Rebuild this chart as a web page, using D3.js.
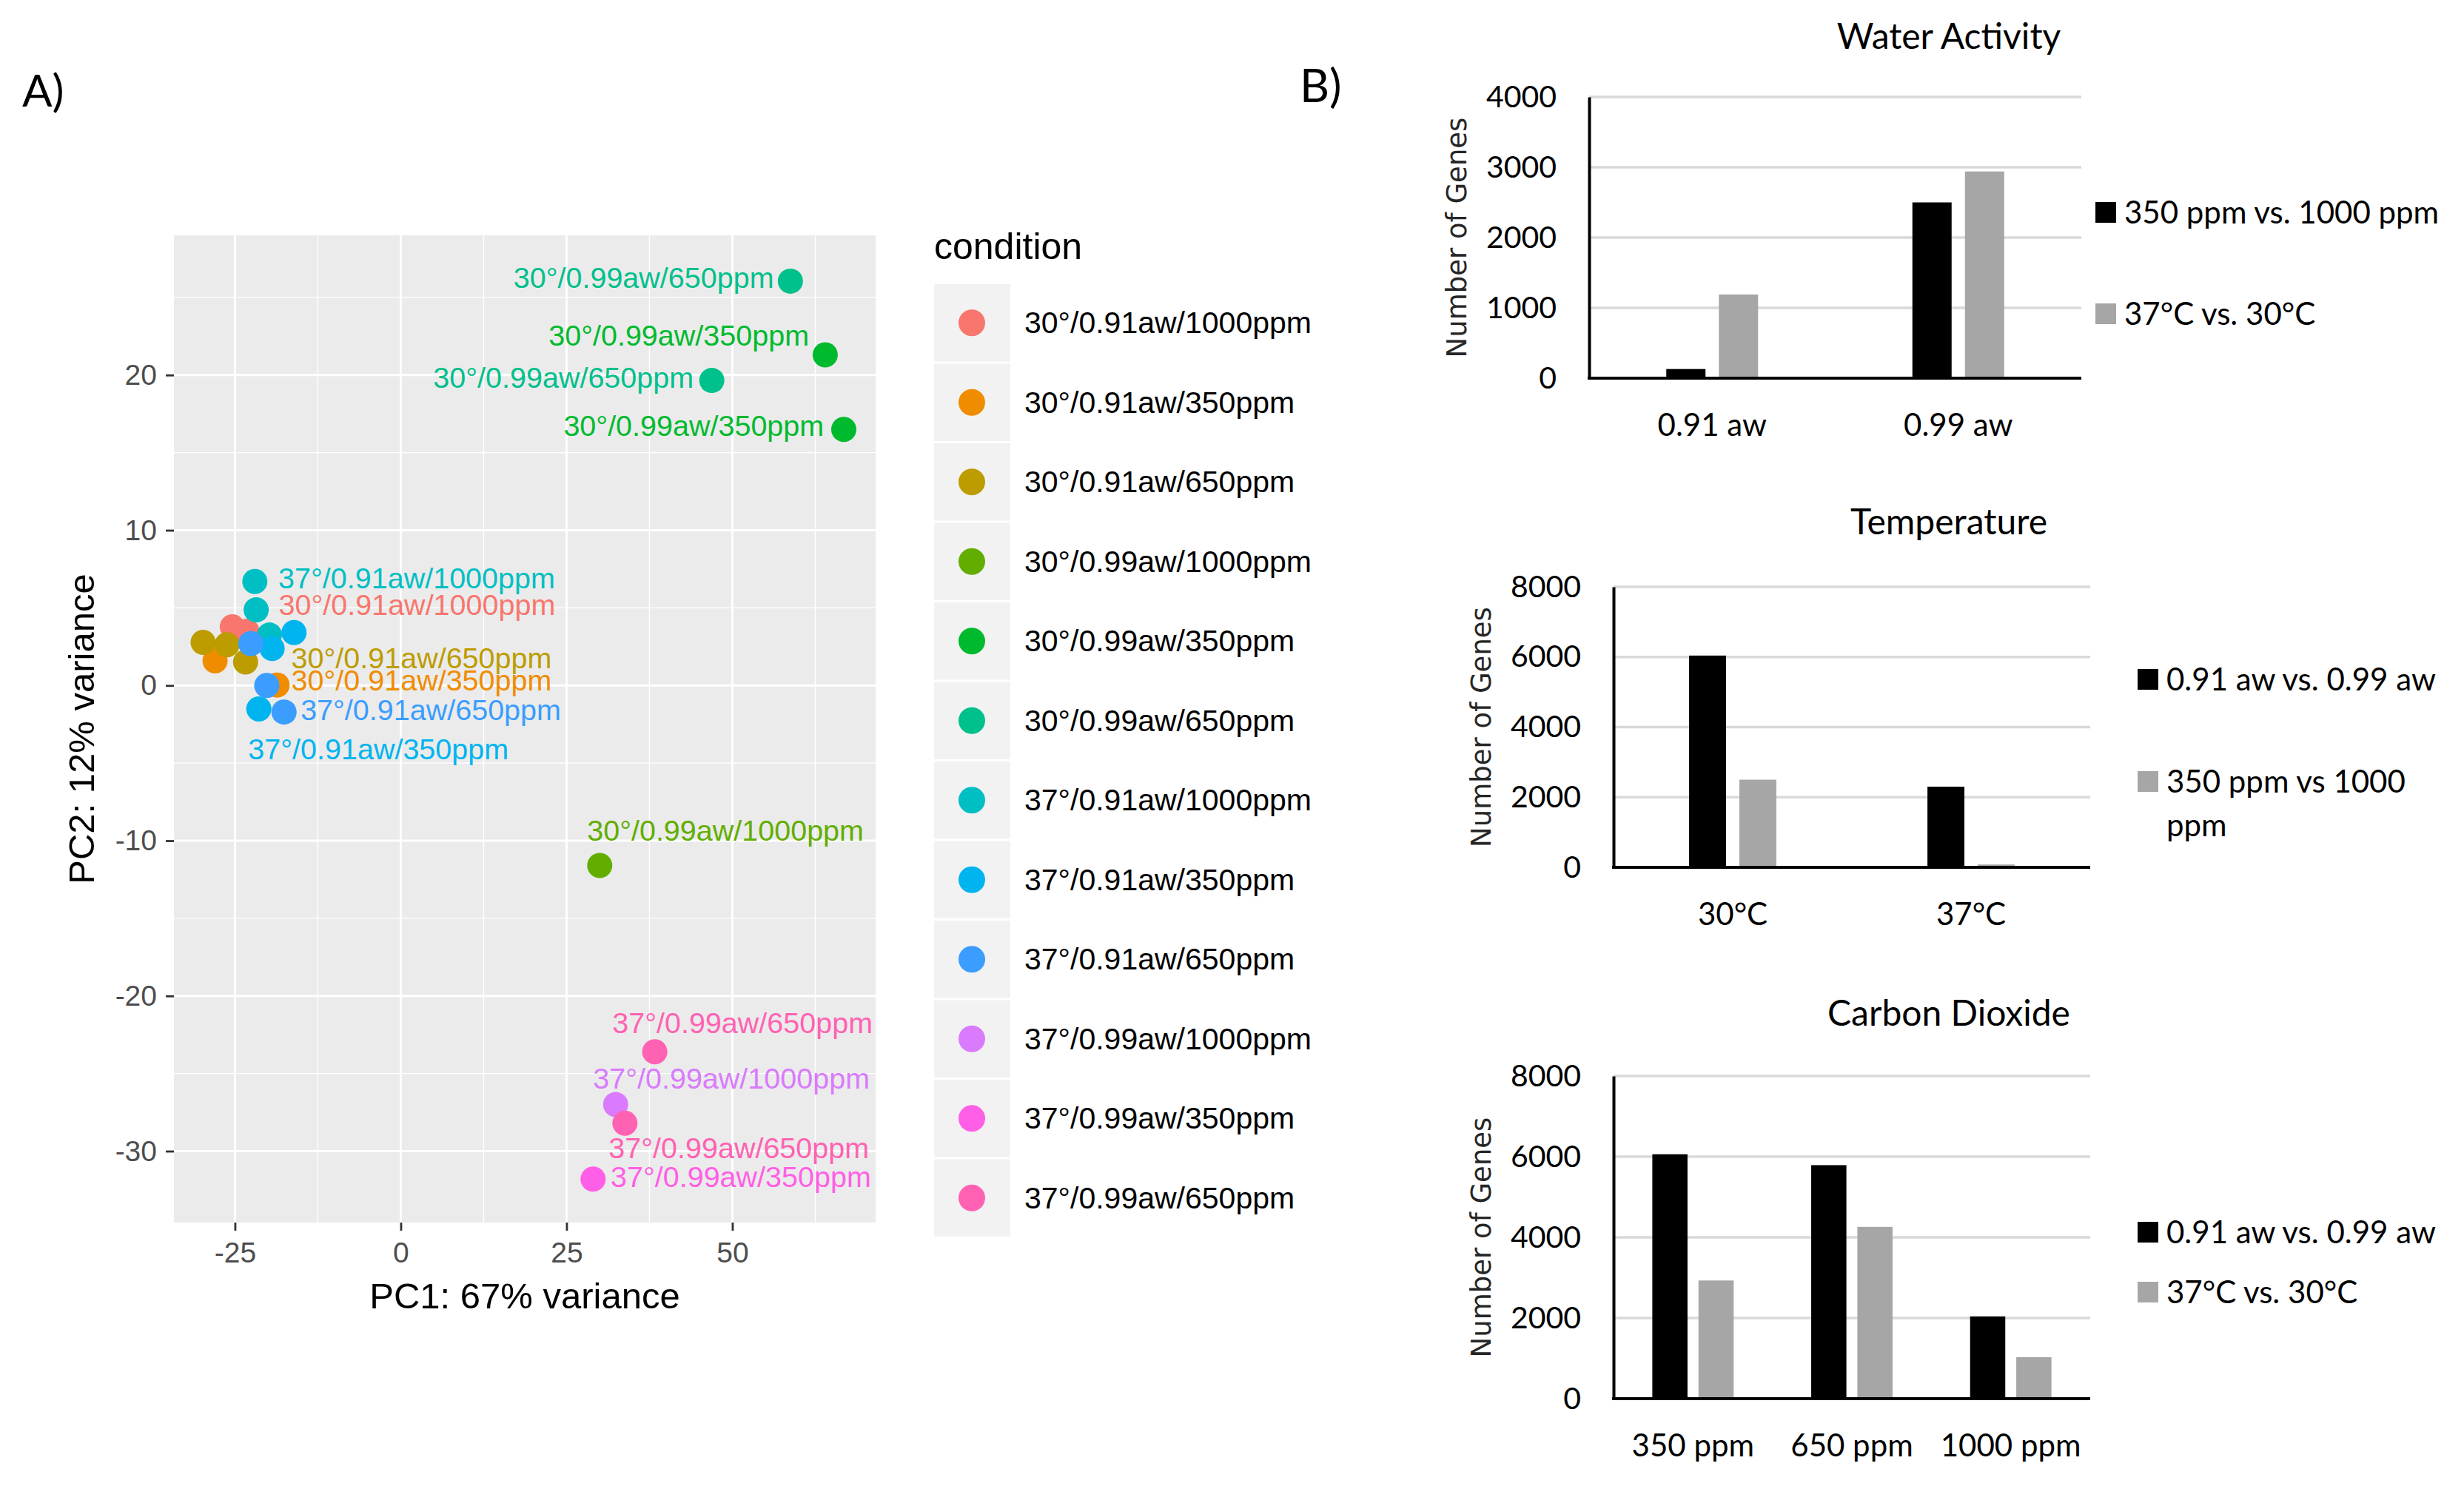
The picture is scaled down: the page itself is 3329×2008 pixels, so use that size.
<!DOCTYPE html>
<html>
<head>
<meta charset="utf-8">
<script src="https://cdn.jsdelivr.net/npm/d3@7"></script>
<style>
  body { margin: 0; background: #fff; }
  svg { display: block; }
</style>
</head>
<body>
<svg id="fig" width="3329" height="2008"></svg>
<script>
// ---------- panel A data (PCA) ----------
const conditions = [
  "30°/0.91aw/1000ppm", "30°/0.91aw/350ppm", "30°/0.91aw/650ppm",
  "30°/0.99aw/1000ppm", "30°/0.99aw/350ppm", "30°/0.99aw/650ppm",
  "37°/0.91aw/1000ppm", "37°/0.91aw/350ppm", "37°/0.91aw/650ppm",
  "37°/0.99aw/1000ppm", "37°/0.99aw/350ppm", "37°/0.99aw/650ppm"
];
const conditionColors = [
  "#F8766D", "#F08C00", "#BD9C00", "#62AE00", "#00BA2E", "#00C08B",
  "#00BFC4", "#00B4F0", "#3A9DFF", "#D97BFC", "#FF5FE6", "#FF62B2"
];

// samples, in drawing order
const pointCond = [0, 0, 1, 1, 2, 2, 2, 3, 4, 4, 5, 5, 6, 6, 6, 7, 7, 7, 8, 8, 8, 9, 10, 11, 11];
const pointPC1 = [-25.4, -23.2, -28.0, -18.65, -29.8, -26.2, -23.4, 30.0, 64.0, 66.8, 58.75, 46.9,
  -22.0, -21.8, -19.8, -16.1, -19.4, -21.4, -22.6, -20.2, -17.6, 32.4, 29.0, 38.3, 33.8];
const pointPC2 = [3.78, 3.49, 1.59, 0.03, 2.78, 2.62, 1.51, -11.6, 21.3, 16.5, 26.05, 19.65,
  6.7, 4.87, 3.25, 3.41, 2.38, -1.51, 2.70, 0.0, -1.71, -27.0, -31.8, -23.6, -28.2];

// repelled text labels (start of text, baseline) in PC units
const labelCond = [5, 4, 5, 4, 6, 0, 2, 1, 8, 7, 3, 11, 9, 11, 10];
const labelPC1 = [17.0, 22.3, 4.9, 24.55, -18.45, -18.4, -16.5, -16.5, -15.1, -23.0, 28.1, 31.9, 29.0, 31.35, 31.65];
const labelPC2 = [25.6, 21.9, 19.2, 16.1, 6.27, 4.52, 1.11, -0.32, -2.22, -4.76, -10.0, -22.4, -25.95, -30.43, -32.3];

const pc1Ticks = [-25, 0, 25, 50];
const pc2Ticks = [-30, -20, -10, 0, 10, 20];

// ---------- panel B data (bar charts) ----------
const waterCats = ["0.91 aw", "0.99 aw"];
const waterSeries = ["350 ppm vs. 1000 ppm", "37°C vs. 30°C"];
const waterCO2 = [130, 2500];
const waterTemp = [1190, 2940];

const tempCats = ["30°C", "37°C"];
const tempSeries = ["0.91 aw vs. 0.99 aw", "350 ppm vs 1000 ppm"];
const tempAw = [6040, 2300];
const tempCO2 = [2500, 80];

const co2Cats = ["350 ppm", "650 ppm", "1000 ppm"];
const co2Series = ["0.91 aw vs. 0.99 aw", "37°C vs. 30°C"];
const co2Aw = [6060, 5790, 2040];
const co2Temp = [2930, 4260, 1030];

const barColors = ["#000000", "#A6A6A6"];

const svg = d3.select("#fig");
svg.append("rect").attr("width", 3329).attr("height", 2008).attr("fill", "#fff");

const ggFont = "'Liberation Sans', Arial, sans-serif";
const xlFont = "Lato, 'Liberation Sans', sans-serif";

// panel letters
svg.append("text").attr("x", 30).attr("y", 144).text("A)")
  .style("font-family", xlFont).style("font-size", "60px").attr("fill", "#000");
svg.append("text").attr("x", 1756).attr("y", 138).text("B)")
  .style("font-family", xlFont).style("font-size", "62px").attr("fill", "#000");

// ---------- PCA plot ----------
const px0 = 235, px1 = 1183, py0 = 318, py1 = 1652;
const x = d3.scaleLinear().domain([-34.2, 71.6]).range([px0, px1]);
const y = d3.scaleLinear().domain([-34.6, 29.0]).range([py1, py0]);

const pca = svg.append("g");
pca.append("rect").attr("x", px0).attr("y", py0)
  .attr("width", px1 - px0).attr("height", py1 - py0).attr("fill", "#EBEBEB");

function minorOf(ticks, dom) {
  const step = ticks[1] - ticks[0];
  const out = [];
  for (let v = ticks[0] - step / 2; v <= ticks[ticks.length - 1] + step; v += step) {
    if (v > dom[0] && v < dom[1]) out.push(v);
  }
  return out;
}

pca.append("g").selectAll("line").data(minorOf(pc1Ticks, x.domain())).join("line")
  .attr("x1", d => x(d)).attr("x2", d => x(d)).attr("y1", py0).attr("y2", py1)
  .attr("stroke", "#fff").attr("stroke-width", 1.4);
pca.append("g").selectAll("line").data(minorOf(pc2Ticks, y.domain())).join("line")
  .attr("y1", d => y(d)).attr("y2", d => y(d)).attr("x1", px0).attr("x2", px1)
  .attr("stroke", "#fff").attr("stroke-width", 1.4);
pca.append("g").selectAll("line").data(pc1Ticks).join("line")
  .attr("x1", d => x(d)).attr("x2", d => x(d)).attr("y1", py0).attr("y2", py1)
  .attr("stroke", "#fff").attr("stroke-width", 2.8);
pca.append("g").selectAll("line").data(pc2Ticks).join("line")
  .attr("y1", d => y(d)).attr("y2", d => y(d)).attr("x1", px0).attr("x2", px1)
  .attr("stroke", "#fff").attr("stroke-width", 2.8);

function styleGgAxis(g) {
  g.select(".domain").remove();
  g.selectAll(".tick line").attr("stroke", "#333333").attr("stroke-width", 2.8);
  g.selectAll(".tick text").attr("fill", "#4D4D4D")
    .style("font-family", ggFont).style("font-size", "39px");
}

pca.append("g").attr("transform", `translate(0,${py1})`)
  .call(d3.axisBottom(x).tickValues(pc1Ticks).tickSize(11).tickPadding(15).tickFormat(d => String(d)))
  .call(styleGgAxis);
pca.append("g").attr("transform", `translate(${px0},0)`)
  .call(d3.axisLeft(y).tickValues(pc2Ticks).tickSize(11).tickPadding(12).tickFormat(d => String(d)))
  .call(styleGgAxis);

pca.append("text").attr("x", (px0 + px1) / 2).attr("y", 1768).attr("text-anchor", "middle")
  .text("PC1: 67% variance").style("font-family", ggFont).style("font-size", "49px").attr("fill", "#000");
pca.append("text").attr("transform", `translate(127,${(py0 + py1) / 2}) rotate(-90)`)
  .attr("text-anchor", "middle")
  .text("PC2: 12% variance").style("font-family", ggFont).style("font-size", "49px").attr("fill", "#000");

pca.append("g").selectAll("circle").data(pointCond).join("circle")
  .attr("cx", (d, i) => x(pointPC1[i])).attr("cy", (d, i) => y(pointPC2[i]))
  .attr("r", 17).attr("fill", d => conditionColors[d]);

pca.append("g").selectAll("text").data(labelCond).join("text")
  .attr("x", (d, i) => x(labelPC1[i])).attr("y", (d, i) => y(labelPC2[i]))
  .text(d => conditions[d]).attr("fill", d => conditionColors[d])
  .style("font-family", ggFont).style("font-size", "39.5px");

// legend
const lg = svg.append("g");
lg.append("text").attr("x", 1262).attr("y", 350).text("condition")
  .style("font-family", ggFont).style("font-size", "50px").attr("fill", "#000");
const rowH = 107.5, rowTop = 384;
const rows = lg.selectAll("g.row").data(conditions).join("g").attr("class", "row")
  .attr("transform", (d, i) => `translate(0,${rowTop + i * rowH})`);
rows.append("rect").attr("x", 1262).attr("y", 0).attr("width", 103).attr("height", rowH - 3)
  .attr("fill", "#F2F2F2");
rows.append("circle").attr("cx", 1313).attr("cy", (rowH - 3) / 2).attr("r", 18)
  .attr("fill", (d, i) => conditionColors[i]);
rows.append("text").attr("x", 1384).attr("y", (rowH - 3) / 2 + 14).text(d => d)
  .style("font-family", ggFont).style("font-size", "41px").attr("fill", "#000");

// ---------- bar charts ----------
function wrapText(textSel, maxWidth, lineH) {
  textSel.each(function () {
    const t = d3.select(this);
    const words = t.text().split(" ");
    const x0 = t.attr("x");
    t.text(null);
    let line = [];
    let span = t.append("tspan").attr("x", x0).attr("dy", 0);
    words.forEach(w => {
      line.push(w);
      span.text(line.join(" "));
      if (span.node().getComputedTextLength() > maxWidth && line.length > 1) {
        line.pop();
        span.text(line.join(" "));
        line = [w];
        span = t.append("tspan").attr("x", x0).attr("dy", lineH).text(w);
      }
    });
  });
}

function barChart(cfg) {
  const g = svg.append("g");
  const xb = d3.scaleBand().domain(cfg.cats).range([cfg.left, cfg.right])
    .paddingInner(cfg.pad).paddingOuter(cfg.pad / 2);
  const xs = d3.scaleBand().domain(d3.range(cfg.series.length)).range([0, xb.bandwidth()])
    .paddingInner(cfg.innerPad);
  const yb = d3.scaleLinear().domain([0, cfg.yMax]).range([cfg.base, cfg.top]);
  const ticks = d3.range(0, cfg.yMax + 1, cfg.yStep);

  g.append("g").selectAll("line").data(ticks.slice(1)).join("line")
    .attr("x1", cfg.left).attr("x2", cfg.right)
    .attr("y1", d => yb(d)).attr("y2", d => yb(d))
    .attr("stroke", "#D9D9D9").attr("stroke-width", 3.5);

  cfg.values.forEach((vals, si) => {
    g.append("g").selectAll("rect").data(vals).join("rect")
      .attr("x", (d, i) => xb(cfg.cats[i]) + xs(si))
      .attr("width", xs.bandwidth())
      .attr("y", d => yb(d))
      .attr("height", d => cfg.base - yb(d))
      .attr("fill", barColors[si]);
  });

  const ya = g.append("g").attr("transform", `translate(${cfg.left},0)`)
    .call(d3.axisLeft(yb).tickValues(ticks).tickSize(0).tickPadding(44).tickFormat(d => String(d)));
  ya.select(".domain").attr("stroke", "#000").attr("stroke-width", 4);
  ya.selectAll(".tick text").attr("fill", "#000")
    .style("font-family", xlFont).style("font-size", "41px");

  g.append("line").attr("x1", cfg.left - 2).attr("x2", cfg.right)
    .attr("y1", cfg.base).attr("y2", cfg.base).attr("stroke", "#000").attr("stroke-width", 4);

  const xa = g.append("g").attr("transform", `translate(0,${cfg.base})`)
    .call(d3.axisBottom(xb).tickSize(0).tickPadding(48));
  xa.select(".domain").remove();
  xa.selectAll(".tick text").attr("fill", "#000")
    .style("font-family", xlFont).style("font-size", "42px");

  g.append("text").attr("x", 2633).attr("y", cfg.titleY).attr("text-anchor", "middle")
    .text(cfg.title).style("font-family", xlFont).style("font-size", "48px").attr("fill", "#000");

  g.append("text").attr("transform", `translate(${cfg.yTitleX + 13},${(cfg.top + cfg.base) / 2}) rotate(-90)`)
    .attr("text-anchor", "middle").text("Number of Genes")
    .style("font-family", "'DejaVu Sans', Verdana, sans-serif").style("font-size", "37px")
    .attr("fill", "#262626");

  const leg = g.append("g");
  cfg.series.forEach((s, si) => {
    const cy = cfg.legendY[si];
    leg.append("rect").attr("x", cfg.legendX).attr("y", cy - 14).attr("width", 28).attr("height", 28)
      .attr("fill", barColors[si]);
    leg.append("text").attr("x", cfg.legendX + 39).attr("y", cy + 15).text(s)
      .style("font-family", xlFont).style("font-size", "42px").attr("fill", "#000")
      .call(wrapText, 3320 - cfg.legendX - 39, 59);
  });
}

barChart({
  cats: waterCats, series: waterSeries, values: [waterCO2, waterTemp],
  yMax: 4000, yStep: 1000, left: 2147, right: 2812, top: 131, base: 511,
  pad: 0.627, innerPad: 0.254, title: "Water Activity", titleY: 66,
  yTitleX: 1968, legendX: 2831, legendY: [287, 424]
});
barChart({
  cats: tempCats, series: tempSeries, values: [tempAw, tempCO2],
  yMax: 8000, yStep: 2000, left: 2180, right: 2824, top: 793, base: 1172,
  pad: 0.634, innerPad: 0.265, title: "Temperature", titleY: 722,
  yTitleX: 2001, legendX: 2888, legendY: [918, 1056]
});
barChart({
  cats: co2Cats, series: co2Series, values: [co2Aw, co2Temp],
  yMax: 8000, yStep: 2000, left: 2180, right: 2824, top: 1454, base: 1890,
  pad: 0.488, innerPad: 0.238, title: "Carbon Dioxide", titleY: 1386,
  yTitleX: 2001, legendX: 2888, legendY: [1665, 1746]
});
</script>
</body>
</html>
